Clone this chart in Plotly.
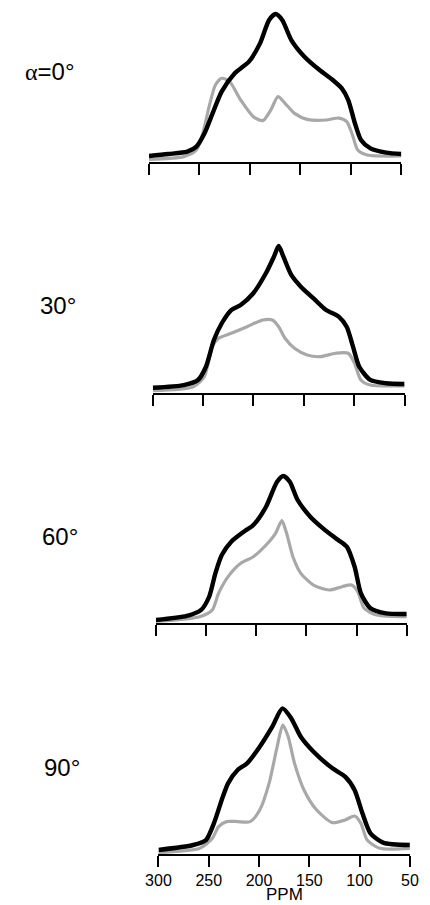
import plotly.graph_objects as go

# ---------------- data (ppm, relative intensity) ----------------
panel_labels = ["<span style='font-family:Liberation Serif'>α</span>=0°", "30°", "60°", "90°"]
tick_vals = [300, 250, 200, 150, 100, 50]
tick_text = ["300", "250", "200", "150", "100", "50"]

# alpha = 0
ppm_0_black = [300, 281, 262, 253, 245, 237, 228, 215, 201, 190, 181, 174.6, 168, 159, 146, 131, 118, 109, 102.6, 96, 90, 80.6, 65, 50]
int_0_black = [4, 5.3, 6.9, 10.2, 19.1, 32.4, 46.9, 59.1, 66.9, 79.1, 94.7, 98.7, 94.7, 81.3, 70.2, 61.3, 54.7, 49.1, 41.3, 25.8, 14.7, 9.1, 6.2, 5.3]
ppm_0_gray = [300, 265.5, 253, 246.7, 240.4, 234.2, 227.9, 220.1, 209.1, 196.6, 187.2, 179.3, 172.2, 165.2, 155.8, 143.3, 124.5, 112, 104.1, 97.9, 93.2, 83.8, 50]
int_0_gray = [1.8, 3.6, 8, 19.1, 36.9, 51.3, 55.8, 53.6, 41.3, 30.2, 27.6, 34.7, 43.6, 39.1, 32.4, 28.4, 28, 29.3, 26.9, 16.9, 8, 4.7, 4]

# alpha = 30
ppm_30_black = [300, 269.2, 255.1, 247.2, 239.3, 231.5, 222.1, 212.7, 200.2, 187.7, 179.7, 175, 170.3, 162.5, 153, 140.4, 127.9, 115.4, 107.5, 101.2, 95, 84, 68.3, 50]
int_30_black = [3.7, 5.5, 8.9, 17.7, 35.5, 46.7, 55.5, 58.9, 66.7, 80, 91.1, 98.2, 91.1, 78.9, 71.1, 63.3, 55.5, 51.1, 44.4, 31.1, 17.7, 8.9, 6.7, 6.2]
ppm_30_gray = [300, 259.8, 248.8, 240.9, 234.6, 222.1, 206.4, 190.7, 181.3, 175, 168.7, 159.3, 146.7, 134.2, 118.5, 106, 99.7, 93.4, 84, 50]
int_30_gray = [1.8, 4.4, 11.1, 31.1, 36.7, 40, 44.4, 48.9, 48.9, 44.4, 36.7, 30, 25.5, 24.4, 26.7, 26.7, 20, 8.9, 5.5, 5]

# alpha = 60
ppm_60_black = [300, 269.2, 255, 247, 240.8, 234.4, 225, 212.4, 202.9, 190.3, 179.3, 173, 166.6, 158.8, 146.2, 133.5, 120.9, 109.8, 102, 95.7, 86.2, 70.5, 50]
int_60_black = [1.8, 4.5, 8.5, 17.3, 32.9, 45.1, 54, 60.7, 65.1, 77.3, 94, 97.8, 94, 81.8, 70.7, 62.9, 56.3, 50.7, 37.3, 19.6, 9.6, 6.2, 5.8]
ppm_60_gray = [300, 256.5, 243.9, 237.6, 228.1, 215.5, 202.9, 190.3, 180.8, 174.5, 169.8, 163.5, 155.6, 143, 127.3, 114.6, 105.1, 98.9, 92.5, 80, 50]
int_60_gray = [0.7, 4, 8.5, 19.6, 30.7, 39.6, 44, 51.8, 59.6, 68, 59.6, 44, 32.9, 25.1, 21.8, 24, 25.1, 20.7, 9.6, 5.1, 4]

# alpha = 90
ppm_90_black = [300, 265.4, 252.8, 244.9, 237.1, 230.8, 221.3, 211.9, 199.3, 186.8, 176.7, 167.9, 158.5, 145.8, 127, 114.4, 105, 97.2, 89.2, 76.7, 50]
int_90_black = [2.7, 6, 9.3, 20.4, 36, 47.1, 56, 60.4, 71.5, 84.9, 97.1, 90.4, 78.2, 68.2, 57.1, 51.6, 42.7, 27.1, 13.8, 7.6, 6]
ppm_90_gray = [300, 259, 246.5, 240.2, 232.4, 221.3, 208.8, 199.3, 190, 182, 176.4, 171, 164.7, 155.3, 142.7, 127, 114.4, 105, 98.7, 92.5, 80, 50]
int_90_gray = [0.9, 3.8, 10.4, 18.2, 21.6, 21.6, 21.6, 29.3, 47.1, 71.5, 86, 78.2, 60.4, 42.7, 29.3, 20.9, 22.7, 25.3, 20.4, 9.3, 3.8, 3.8]

black_series = [(ppm_0_black, int_0_black), (ppm_30_black, int_30_black),
                (ppm_60_black, int_60_black), (ppm_90_black, int_90_black)]
gray_series = [(ppm_0_gray, int_0_gray), (ppm_30_gray, int_30_gray),
               (ppm_60_gray, int_60_gray), (ppm_90_gray, int_90_gray)]

# ---------------- layout geometry (pixels) ----------------
W, H = 430, 905
x_left = [143.3, 147.3, 150.7, 153.3]
x_right = [409.3, 412.7, 415.0, 418.3]
axis_y = [162, 393.3, 622.7, 854]
panel_h = 156
label_pos = [(11, 72), (26, 305), (28, 536), (31, 767)]

fig = go.Figure()
layout = dict(
    width=W, height=H,
    margin=dict(l=0, r=0, t=0, b=0),
    paper_bgcolor="white", plot_bgcolor="white",
    showlegend=False,
    font=dict(family="Liberation Sans, Arial, sans-serif", color="black"),
)

annotations = []
for i in range(4):
    n = "" if i == 0 else str(i + 1)
    xa = "x" + n
    ya = "y" + n
    gx, gy = gray_series[i]
    bx, by = black_series[i]
    fig.add_trace(go.Scatter(x=gx, y=gy, mode="lines", xaxis=xa, yaxis=ya,
                             line=dict(color="#a8a8a8", width=3.2, shape="spline", smoothing=0.7),
                             hoverinfo="skip"))
    fig.add_trace(go.Scatter(x=bx, y=by, mode="lines", xaxis=xa, yaxis=ya,
                             line=dict(color="black", width=4.4, shape="spline", smoothing=0.7),
                             hoverinfo="skip"))
    bottom = 1 - axis_y[i] / H
    top = 1 - (axis_y[i] - panel_h) / H
    layout["xaxis" + n] = dict(
        domain=[x_left[i] / W, x_right[i] / W], range=[300, 50], anchor=ya,
        showline=True, linecolor="black", linewidth=2,
        ticks="outside", ticklen=11, tickwidth=2, tickcolor="black",
        tickvals=tick_vals, ticktext=tick_text,
        showticklabels=(i == 3), showgrid=False, zeroline=False,
        tickfont=dict(size=16, family="Liberation Sans, Arial, sans-serif", color="black"),
        fixedrange=True,
    )
    layout["yaxis" + n] = dict(
        domain=[bottom, top], range=[0, 104], anchor=xa,
        visible=False, showgrid=False, zeroline=False, fixedrange=True,
    )
    lx, ly = label_pos[i]
    annotations.append(dict(
        text=panel_labels[i], xref="paper", yref="paper",
        x=lx / W, y=1 - ly / H, xanchor="left", yanchor="middle",
        showarrow=False, font=dict(size=24, family="Liberation Sans, Arial, sans-serif", color="black"),
    ))

annotations.append(dict(
    text="PPM", xref="paper", yref="paper", x=286 / W, y=0,
    xanchor="center", yanchor="bottom", showarrow=False, borderpad=0,
    font=dict(size=17, family="Liberation Sans, Arial, sans-serif", color="black"),
))
layout["annotations"] = annotations
fig.update_layout(**layout)
fig.write_html("out.html", config={"displayModeBar": False})

with open("out.html", "r", encoding="utf-8") as f:
    html = f.read()
html = html.replace("<head>", "<head><style>html,body{margin:0;padding:0;overflow:hidden;}</style>", 1)
with open("out.html", "w", encoding="utf-8") as f:
    f.write(html)
